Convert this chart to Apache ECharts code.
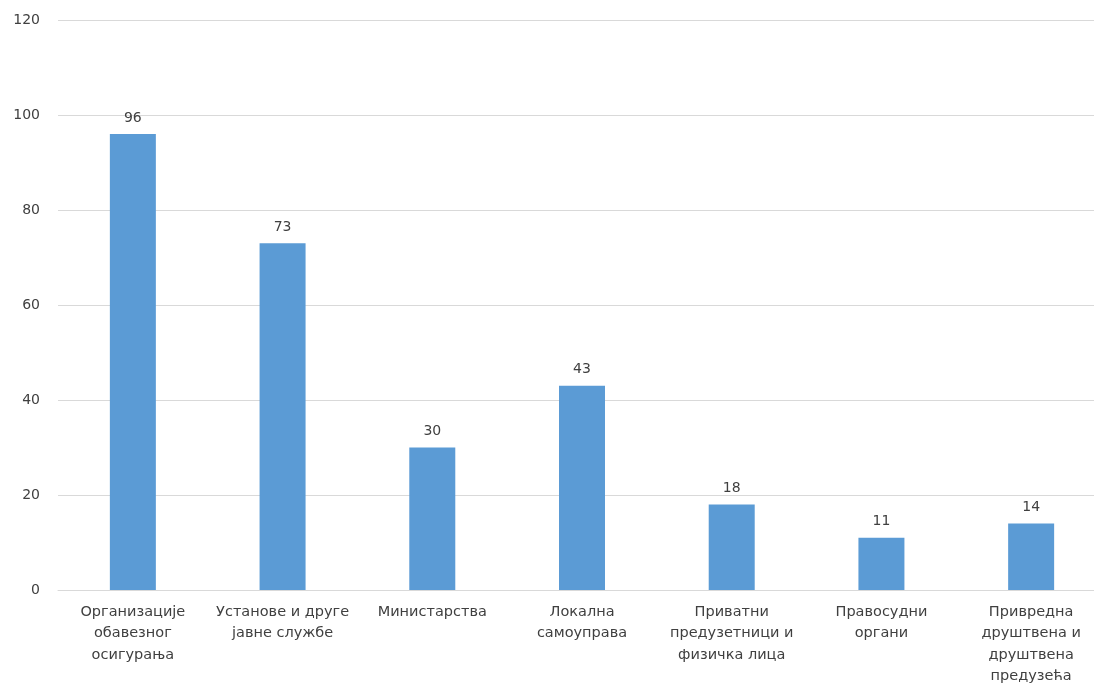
<!DOCTYPE html>
<html>
<head>
<meta charset="utf-8">
<script src="https://cdn.jsdelivr.net/npm/echarts@6/dist/echarts.min.js"></script>
<style>html,body{margin:0;padding:0;background:#fff;overflow:hidden;}#c{width:1110px;height:687px;}</style>
</head>
<body>
<div id="c"></div>
<script>
const categories = [
  "Организације\nобавезног\nосигурања",
  "Установе и друге\nјавне службе",
  "Министарства",
  "Локална\nсамоуправа",
  "Приватни\nпредузетници и\nфизичка лица",
  "Правосудни\nоргани",
  "Привредна\nдруштвена и\nдруштвена\nпредузећа"
];
const values = [96, 73, 30, 43, 18, 11, 14];
const yMin = 0, yMax = 120, yStep = 20;

const chart = echarts.init(document.getElementById('c'));
chart.setOption({
  animation: false,
  backgroundColor: '#fff',
  grid: { left: 58, right: 4, top: 20, bottom: 97, containLabel: false, outerBoundsMode: 'none' },
  xAxis: {
    type: 'category',
    data: categories,
    axisLine: { lineStyle: { color: '#D9D9D9' } },
    axisTick: { show: false },
    axisLabel: {
      interval: 0, margin: 11, color: '#404040',
      fontFamily: 'DejaVu Sans', fontSize: 14.5, lineHeight: 21.5
    }
  },
  yAxis: {
    type: 'value', min: yMin, max: yMax, interval: yStep,
    axisLine: { show: false }, axisTick: { show: false },
    splitLine: { lineStyle: { color: '#D9D9D9' } },
    axisLabel: { margin: 18, color: '#404040', fontFamily: 'DejaVu Sans', fontSize: 14 }
  },
  series: [{
    type: 'bar',
    data: values,
    barWidth: 46,
    itemStyle: { color: '#5B9BD5' },
    label: { show: true, position: 'top', distance: 9, color: '#404040', fontFamily: 'DejaVu Sans', fontSize: 14 }
  }]
});
</script>
</body>
</html>
